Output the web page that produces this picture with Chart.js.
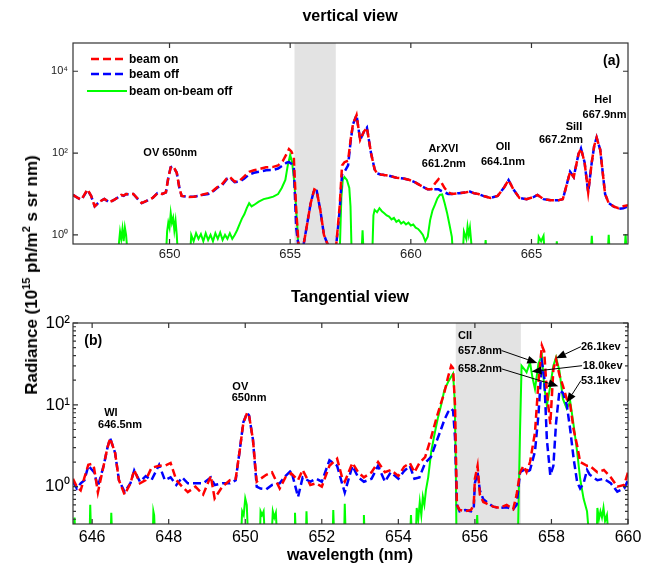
<!DOCTYPE html>
<html><head><meta charset="utf-8">
<script src="https://cdn.jsdelivr.net/npm/chart.js@4.4.0/dist/chart.umd.min.js"></script>
<style>
html,body{margin:0;padding:0;background:#fff;}
#wrap{position:relative;width:655px;height:566px;overflow:hidden;background:#fff;}
canvas{position:absolute;left:0;}
#ylab{position:absolute;left:32px;top:275px;transform:translate(-50%,-50%) rotate(-90deg);white-space:nowrap;font:bold 17px "Liberation Sans",Arial,sans-serif;color:#000;}
#ylab sup{font-size:11px;line-height:0;vertical-align:7px;}
</style></head>
<body><div id="wrap">
<canvas id="cA" width="655" height="262" style="top:0"></canvas>
<canvas id="cB" width="655" height="304" style="top:262px"></canvas>
<div id="ylab">Radiance (10<sup>15</sup> ph/m<sup>2</sup> s sr nm)</div>
</div>
<script>
// ---------------- (a) vertical view ----------------
const topWl = [
 646.0,646.2,646.35,646.6,646.75,646.9,647.1,647.3,647.5,647.7,
 647.9,648.0,648.1,648.2,648.3,648.5,648.7,648.85,649.1,649.3,
 649.5,649.7,649.85,649.95,650.05,650.15,650.3,650.4,650.5,650.8,
 651.0,651.2,651.4,651.6,651.8,652.0,652.2,652.4,652.5,652.7,
 652.9,653.1,653.3,653.5,653.8,654.0,654.3,654.5,654.7,654.85,
 654.95,655.05,655.15,655.25,655.35,655.55,655.7,655.85,656.0,656.1,
 656.25,656.4,656.6,656.9,657.05,657.15,657.25,657.4,657.5,657.6,
 657.75,657.9,658.05,658.18,658.35,658.5,658.6,658.75,658.9,659.1,
 659.4,659.7,659.95,660.2,660.5,660.7,660.85,661.0,661.15,661.25,
 661.4,661.55,661.7,662.0,662.3,662.45,662.6,662.8,663.0,663.3,
 663.6,663.85,664.05,664.25,664.5,664.8,665.1,665.25,665.5,665.8,
 666.1,666.3,666.45,666.6,666.75,666.95,667.05,667.2,667.35,667.5,
 667.6,667.7,667.85,668.05,668.2,668.4,668.6,668.8,669.0];
const topBeamOn = [
 9.5,8,7.2,13,9,5,6.5,7.6,6.3,7.2,
 8.5,9.5,9.2,10,9.8,10,7.5,6,7,8,
 10.5,10,11,25,45,48,33,15,9,8.5,
 8.6,9,9.8,10.5,12,15,18,25,26,20,
 21,27,35,38,42,45,46,50,65,95,
 125,110,80,4,0.55,0.55,1.8,6,13,12,
 4,1.0,0.5,0.5,5,50,60,65,200,500,
 850,210,330,420,100,40,32,30,29,28,
 25,24,22,19,15,13,13,18,23,20,
 14,11,10,10.5,11,11.5,10.5,10,9,8,
 9,14,22,13,8,7.5,8.5,9.5,7.5,7,
 7,7.5,16,35,26,95,130,60,11,60,
 150,240,120,10,6,5,4.5,5,5.3];
const topBeamOff = [
 9.5,8,7.2,12.5,9,5,6.5,7.6,6.2,7.2,
 8.5,9.5,9,10,9.8,10,7.3,6,7,8,
 10.5,10,11,25,45,47,33,15,9,8.5,
 8.6,9,9.6,10,11.5,14.5,17,24,25,19.5,
 20,24,30,33,36,38,39,42,50,58,
 60,55,45,1.5,0.5,0.55,1.8,6,13,12,
 4,1.0,0.5,0.5,4,30,35,50,180,500,
 850,210,330,420,100,40,32,30,29,28,
 25,24,22,19,15,13,13,13,13,12,
 11,10,10,10.5,11,11.5,10.5,10,9,8,
 9,14,22,13,8,7.5,8.5,9.5,7.5,7,
 7,7.5,16,35,26,95,130,60,11,60,
 150,240,120,10,6,5,4.3,4.5,5];
const topDiffWl = [
 647.85,647.95,648.0,648.05,648.1,648.15,648.2,648.27,648.27,
 649.85,649.9,649.95,650.0,650.05,650.1,650.15,650.2,650.25,650.3,650.35,650.35,
 650.85,650.9,651.0,651.1,651.2,651.3,651.4,651.5,651.6,651.7,651.8,651.9,652.0,652.1,652.2,652.3,652.4,652.5,652.6,652.7,
 652.8,652.9,653.0,653.1,653.2,653.3,653.4,653.5,653.7,653.9,654.1,654.3,654.5,654.65,654.8,654.9,655.0,655.08,655.15,655.22,655.3,655.35,655.35,
 657.05,657.12,657.18,657.25,657.35,657.45,657.5,657.55,657.55,
 657.95,658.0,658.05,658.05,
 658.4,658.45,658.5,658.6,658.7,658.8,658.9,659.0,659.1,659.2,
 659.3,659.4,659.5,659.6,659.7,659.8,659.9,660.0,660.1,660.2,
 660.3,660.4,660.5,660.6,660.7,660.8,660.9,661.0,661.1,661.2,
 661.3,661.4,661.5,661.6,661.7,661.75,661.75,
 662.15,662.2,662.3,662.35,662.4,662.45,662.5,662.55,662.55,
 663.05,663.1,663.15,663.15,665.25,665.3,665.4,665.5,665.55,665.55,
 666.0,666.05,666.1,666.1,667.45,667.5,667.55,667.55,
 668.15,668.2,668.25,668.25,668.85,668.9,668.95];
const topDiff = [
 0.3,1.2,0.8,1.4,0.7,1.5,1.0,0.3,null,
 0.3,1.2,2.0,1.5,3.4,2.0,2.6,1.3,2.2,1.0,0.3,null,
 0.3,1.0,0.7,1.1,0.8,1.05,0.7,1.1,0.75,1.0,0.7,1.1,0.8,1.15,0.75,1.0,0.8,1.1,0.8,1.0,
 1.3,1.8,2.5,3.2,4.5,6.0,5.0,5.4,6.5,7.5,8.0,8.6,10,14,22,50,90,60,25,8,1.5,0.3,null,
 0.3,8,22,26,22,14,5,0.3,null,
 0.3,1.3,0.3,null,
 0.3,3.0,4.1,3.6,4.5,3.8,3.4,3.0,2.8,2.4,
 2.6,2.1,2.3,1.9,2.1,1.8,2.0,1.7,1.8,1.5,
 1.4,1.2,1.0,0.7,0.9,2.3,4.0,5.5,7.8,9.5,
 9.8,6.0,3.5,1.8,0.9,0.3,null,
 0.3,1.2,0.8,1.6,1.0,1.5,0.7,0.3,null,
 0.3,0.75,0.3,null,0.3,0.9,0.7,0.95,0.3,null,
 0.3,0.7,0.3,null,0.3,0.95,0.3,null,
 0.3,1.0,0.3,null,0.3,1.05,0.3];
const topXTicks = [650,655,660,665];
const topYTicks = [1,100,10000];
const topYLabels = ['10\u2070','10\u00B2','10\u2074'];
const topBand = [655.18, 656.89];

// ---------------- (b) tangential view ----------------
const botWl = [
 645.5,645.6,645.7,645.8,645.9,646.0,646.05,646.15,646.3,646.4,
 646.47,646.6,646.7,646.85,647.0,647.1,647.25,647.4,647.55,647.75,
 647.9,648.05,648.2,648.35,648.5,648.7,648.9,649.1,649.2,649.4,
 649.6,649.75,649.85,649.95,650.05,650.1,650.2,650.3,650.4,650.55,
 650.7,650.9,651.05,651.2,651.38,651.5,651.7,651.85,652.0,652.2,
 652.4,652.53,652.6,652.8,652.95,653.1,653.3,653.47,653.65,653.8,
 654.0,654.15,654.3,654.42,654.55,654.7,654.85,655.0,655.1,655.2,
 655.3,655.38,655.43,655.48,655.53,655.6,655.75,655.9,655.97,656.0,
 656.07,656.13,656.22,656.31,656.48,656.65,656.83,657.0,657.09,657.18,
 657.27,657.35,657.44,657.57,657.66,657.75,657.81,657.88,657.97,658.05,
 658.12,658.21,658.3,658.4,658.49,658.58,658.67,658.75,658.84,658.93,
 659.0,659.2,659.37,659.55,659.72,659.9,660.0];
const botBeamOn = [
 1.25,1.0,0.9,1.3,1.85,1.9,1.7,0.85,1.8,3.0,
 3.9,2.6,1.2,0.8,1.1,1.6,1.1,1.2,1.7,1.8,
 1.8,1.95,1.2,1.0,0.86,1.0,0.8,1.35,0.72,1.0,
 1.2,1.25,2.65,6.0,8.0,7.4,3.8,1.15,1.25,1.4,
 1.5,0.95,1.3,1.45,1.2,1.6,1.05,1.1,1.0,1.8,
 2.2,1.3,1.15,1.95,1.5,1.3,1.5,2.0,1.5,1.6,
 1.35,1.75,1.95,1.5,1.95,2.3,3.9,7.0,10,14,
 22,30,28,10,0.6,0.52,0.5,0.52,0.6,1.25,
 1.8,0.8,0.65,0.62,0.57,0.55,0.6,0.53,0.8,1.5,
 1.8,1.5,2.0,4.6,19,53,45,14.4,5.8,27,
 36,23,17,11.8,10,5,3.2,2.0,1.9,1.8,
 1.8,1.5,1.6,1.3,1.0,1.05,1.5];
const botBeamOff = [
 1.15,0.95,1.1,1.2,1.8,1.6,1.5,1.0,1.8,3.0,
 3.9,2.6,1.2,0.86,1.1,1.58,1.15,1.35,1.2,1.85,
 1.2,1.3,1.05,1.3,1.1,1.1,1.1,1.3,1.05,1.1,
 1.1,1.2,2.65,6.1,8.0,7.4,3.8,1.0,0.95,0.93,
 1.05,1.1,1.35,1.58,0.75,1.3,1.15,1.25,1.15,2.1,
 1.8,1.1,0.85,1.8,1.3,1.15,1.25,1.8,1.15,1.5,
 1.25,1.55,1.8,1.25,1.3,1.95,2.3,3.6,4.8,6.5,
 8.2,9.0,8.5,4,0.6,0.5,0.52,0.5,0.55,1.1,
 1.5,0.9,0.7,0.65,0.57,0.55,0.56,0.53,0.6,1.5,
 1.6,1.5,1.6,2.7,7.6,33,23,3.8,1.37,1.8,
 6,15,14,10,5,2.2,1.15,0.95,1.1,1.6,
 1.4,1.2,1.25,1.1,0.87,0.95,1.2];
const botDiffWl = [
 645.5,645.54,645.57,645.57,645.93,645.95,645.98,645.98,
 646.48,646.5,646.53,646.53,647.58,647.6,647.62,647.65,647.65,
 649.88,649.92,649.96,650.0,650.04,650.08,650.08,
 650.38,650.4,650.44,650.48,650.52,650.52,650.68,650.72,650.76,650.8,650.84,650.84,
 651.28,651.3,651.33,651.33,651.58,651.6,651.63,651.63,
 652.28,652.3,652.33,652.33,652.58,652.6,652.63,652.63,
 653.08,653.1,653.13,653.13,654.3,654.33,654.36,654.36,
 654.45,654.48,654.52,654.56,654.6,654.64,654.68,654.72,654.78,654.86,
 654.95,655.03,655.12,655.2,655.3,655.38,655.43,655.47,655.5,655.52,655.52,
 656.03,656.06,656.09,656.09,
 657.12,657.18,657.22,657.3,657.35,657.44,657.5,657.57,657.66,657.75,
 657.81,657.88,657.97,658.05,658.12,658.21,658.3,658.4,658.49,658.58,
 658.67,658.75,658.84,658.93,659.0,659.0,
 659.18,659.2,659.24,659.28,659.32,659.36,659.4,659.45,659.5];
const botDiff = [
 0.2,0.42,0.2,null,0.2,0.6,0.2,null,
 0.2,0.48,0.2,null,0.2,0.5,0.45,0.2,null,
 0.2,0.5,0.45,0.72,0.6,0.2,null,
 0.2,0.5,0.45,0.5,0.2,null,0.2,0.5,0.42,0.48,0.2,null,
 0.2,0.48,0.2,null,0.2,0.5,0.2,null,
 0.2,0.52,0.2,null,0.2,0.62,0.2,null,
 0.2,0.45,0.2,null,0.2,0.45,0.2,null,
 0.2,0.55,0.4,0.65,0.45,0.75,0.6,0.9,1.3,2.7,
 4.5,6.8,10,15,19,22,24,12,2,0.2,null,
 0.2,0.45,0.2,null,
 0.2,5,30,27,25,33,22,15.6,32,40,
 17,9.8,17,30,38,26,11.8,9,11,5.6,
 2.7,1.25,0.71,0.5,0.2,null,
 0.2,0.55,0.4,0.5,0.42,0.55,0.38,0.45,0.2];
const botXTicks = [646,648,650,652,654,656,658,660];
const botYTicks = [1,10,100];
const botYLabels = ['10\u2070','10\u00B9','10\u00B2'];
const botYMinor = [0.4,0.5,0.6,0.7,0.8,0.9,2,3,4,5,6,7,8,9,20,30,40,50,60,70,80,90];
const botBand = [655.5, 657.2];

// ---------------- annotations (anchored in data units) ----------------
const topNotes = [
 ['OV 650nm',650.03,101],['ArXVI',661.35,125],['661.2nm',661.37,54],
 ['OII',663.82,140],['664.1nm',663.82,61],['SiII',666.76,430],['667.2nm',666.22,207],
 ['HeI',667.96,1960],['667.9nm',668.03,850]];
const botNotesC = [['WI',646.49,8.0],['646.5nm',646.73,5.75],['OV',649.87,16.6],['650nm',650.1,12.2]];
const botNotesL = [['CII',655.56,68.8],['657.8nm',655.56,46],['658.2nm',655.56,27.5],
 ['26.1kev',658.77,51.4],['18.0kev',658.82,30.1],['53.1kev',658.77,19.8]];
const botArrows = [[656.7,46,657.63,32.5],[656.7,27.5,658.18,16.9],[658.77,51.4,658.12,37],
 [658.8,30.1,657.48,25.5],[658.77,19.8,658.4,10.6]];

const FONT = "'Liberation Sans', Arial, Helvetica, sans-serif";
const pts = (wl, v) => wl.map((w, i) => ({x: w, y: v[i]}));

function datasets(wl, on, off, dwl, dv){
  return [
    {data: pts(wl, on), borderColor: '#ff0000', borderWidth: 2.5, borderDash: [8,4], pointRadius: 0, tension: 0, spanGaps: false},
    {data: pts(wl, off), borderColor: '#0000ff', borderWidth: 2.5, borderDash: [8,4], pointRadius: 0, tension: 0, spanGaps: false},
    {data: pts(dwl, dv), borderColor: '#00ff00', borderWidth: 2, pointRadius: 0, tension: 0, spanGaps: false}
  ];
}

function decorPlugin(o){
  return {
    id: 'decor',
    beforeDatasetsDraw(chart){
      const {ctx, chartArea: a, scales: {x}} = chart;
      const x0 = x.getPixelForValue(o.band[0]), x1 = x.getPixelForValue(o.band[1]);
      ctx.save(); ctx.fillStyle = '#e3e3e3';
      ctx.fillRect(x0, a.top, x1 - x0, a.bottom - a.top); ctx.restore();
    },
    afterDatasetsDraw(chart){
      const {ctx, chartArea: a, scales: {x, y}} = chart;
      ctx.save();
      ctx.strokeStyle = '#333'; ctx.lineWidth = 1.2;
      ctx.strokeRect(a.left, a.top, a.right - a.left, a.bottom - a.top);
      ctx.beginPath();
      o.xTicks.forEach(v => { const p = x.getPixelForValue(v);
        ctx.moveTo(p, a.bottom); ctx.lineTo(p, a.bottom - 5);
        ctx.moveTo(p, a.top); ctx.lineTo(p, a.top + 5); });
      o.yTicks.forEach(v => { const p = y.getPixelForValue(v);
        ctx.moveTo(a.left, p); ctx.lineTo(a.left + 5, p);
        ctx.moveTo(a.right, p); ctx.lineTo(a.right - 5, p); });
      (o.yMinor || []).forEach(v => { const p = y.getPixelForValue(v);
        ctx.moveTo(a.left, p); ctx.lineTo(a.left + 3, p);
        ctx.moveTo(a.right, p); ctx.lineTo(a.right - 3, p); });
      ctx.stroke();
      ctx.restore();
    },
    afterDraw(chart){
      const {ctx, chartArea: a, scales: {x, y}} = chart;
      ctx.save(); ctx.fillStyle = '#000'; ctx.textBaseline = 'middle';
      o.texts(ctx, a, x, y);
      ctx.restore();
    }
  };
}

function arrow(ctx, x0, y0, x1, y1){
  const ang = Math.atan2(y1 - y0, x1 - x0), L = 10, W = 4;
  const bx = x1 - L * Math.cos(ang), by = y1 - L * Math.sin(ang);
  ctx.beginPath(); ctx.moveTo(x0, y0); ctx.lineTo(bx, by); ctx.stroke();
  ctx.beginPath(); ctx.moveTo(x1, y1);
  ctx.lineTo(bx + W * Math.sin(ang), by - W * Math.cos(ang));
  ctx.lineTo(bx - W * Math.sin(ang), by + W * Math.cos(ang));
  ctx.closePath(); ctx.fill();
}

function options(c){
  return {
    responsive: false, animation: false, devicePixelRatio: 1,
    layout: {padding: {top: c.padTop, right: 27, left: 0, bottom: 0}},
    plugins: {legend: {display: false}, tooltip: {enabled: false}, title: {display: false}},
    scales: {
      x: {type: 'linear', min: c.xmin, max: c.xmax,
        grid: {display: false, drawTicks: false}, border: {display: false},
        ticks: {padding: c.xPad, color: c.tickColor, font: {family: FONT, size: c.xFont}, autoSkip: false, maxRotation: 0,
          callback: v => String(v)},
        afterBuildTicks: s => { s.ticks = c.xTicks.map(v => ({value: v})); },
        afterFit: s => { s.height = c.xHeight; }},
      y: {type: 'logarithmic', min: c.ymin, max: c.ymax,
        grid: {display: false, drawTicks: false}, border: {display: false},
        ticks: {padding: c.yPad, color: c.tickColor, font: {family: FONT, size: c.yFont}, autoSkip: false,
          callback: v => { const i = c.yTicks.indexOf(v); return i >= 0 ? c.yLabels[i] : ''; }},
        afterBuildTicks: s => { s.ticks = c.yTicks.map(v => ({value: v})); },
        afterFit: s => { s.width = 73; }}
    }
  };
}

// ---- chart (a)
new Chart(document.getElementById('cA'), {
  type: 'line',
  data: {datasets: datasets(topWl, topBeamOn, topBeamOff, topDiffWl, topDiff)},
  options: options({padTop: 43, xmin: 646, xmax: 669, ymin: 0.6, ymax: 49000, xTicks: topXTicks,
    yTicks: topYTicks, yLabels: topYLabels, xFont: 13, yFont: 11, xPad: 3, yPad: 5, xHeight: 18, tickColor: '#222'}),
  plugins: [decorPlugin({band: topBand, xTicks: topXTicks, yTicks: topYTicks,
    texts(ctx, a, x, y){
      ctx.textAlign = 'center';
      ctx.font = 'bold 16px ' + FONT;
      ctx.fillText('vertical view', 350, 17);
      ctx.font = 'bold 11px ' + FONT;
      topNotes.forEach(n => ctx.fillText(n[0], x.getPixelForValue(n[1]), y.getPixelForValue(n[2])));
      ctx.font = 'bold 14px ' + FONT;
      ctx.fillText('(a)', x.getPixelForValue(668.32), y.getPixelForValue(17800));
      // legend
      const lg = [['beam on', '#ff0000', [8,4], 18, 16], ['beam off', '#0000ff', [8,4], 18, 31], ['beam on-beam off', '#00ff00', [], 14, 48]];
      ctx.textAlign = 'left'; ctx.font = 'bold 12px ' + FONT;
      lg.forEach(l => {
        ctx.save(); ctx.strokeStyle = l[1]; ctx.lineWidth = l[2].length ? 2.5 : 2; ctx.setLineDash(l[2]);
        ctx.beginPath(); ctx.moveTo(a.left + l[3], a.top + l[4]); ctx.lineTo(a.left + 54, a.top + l[4]); ctx.stroke();
        ctx.restore();
        ctx.fillText(l[0], a.left + 56, a.top + l[4] + 1);
      });
    }})]
});

// ---- chart (b)
new Chart(document.getElementById('cB'), {
  type: 'line',
  data: {datasets: datasets(botWl, botBeamOn, botBeamOff, botDiffWl, botDiff)},
  options: options({padTop: 61, xmin: 645.5, xmax: 660, ymin: 0.35, ymax: 100, xTicks: botXTicks,
    yTicks: botYTicks, yLabels: botYLabels, xFont: 16, yFont: 17, xPad: 4, yPad: 3, xHeight: 42, tickColor: '#000'}),
  plugins: [decorPlugin({band: botBand, xTicks: botXTicks, yTicks: botYTicks, yMinor: botYMinor,
    texts(ctx, a, x, y){
      ctx.textAlign = 'center';
      ctx.font = 'bold 16px ' + FONT;
      ctx.fillText('Tangential view', 350, 36);
      ctx.fillText('wavelength (nm)', 350, 294);
      ctx.font = 'bold 14px ' + FONT;
      ctx.fillText('(b)', x.getPixelForValue(646.03), y.getPixelForValue(60.8));
      ctx.font = 'bold 11px ' + FONT;
      botNotesC.forEach(n => ctx.fillText(n[0], x.getPixelForValue(n[1]), y.getPixelForValue(n[2])));
      ctx.textAlign = 'left';
      botNotesL.forEach(n => ctx.fillText(n[0], x.getPixelForValue(n[1]), y.getPixelForValue(n[2])));
      ctx.strokeStyle = '#000'; ctx.lineWidth = 1;
      botArrows.forEach(r => arrow(ctx, x.getPixelForValue(r[0]), y.getPixelForValue(r[1]),
        x.getPixelForValue(r[2]), y.getPixelForValue(r[3])));
    }})]
});
</script>
</body></html>
